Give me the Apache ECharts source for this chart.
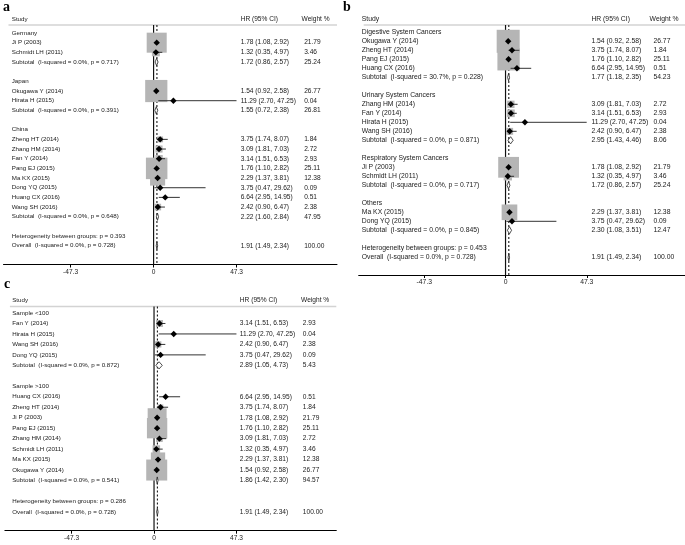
<!DOCTYPE html>
<html><head><meta charset="utf-8">
<script src="https://cdn.jsdelivr.net/npm/echarts@6/dist/echarts.min.js"></script>
<style>html,body{margin:0;padding:0;background:#fff}#c{width:685px;height:545px}</style>
</head><body><div id="c"></div>
<script>
// ---------- Panel a (by country) ----------
const aLabels = ['Germany','Ji P (2003)','Schmidt LH (2011)','Subtotal  (I-squared = 0.0%, p = 0.717)','',
  'Japan','Okugawa Y (2014)','Hirata H (2015)','Subtotal  (I-squared = 0.0%, p = 0.391)','',
  'China','Zheng HT (2014)','Zhang HM (2014)','Fan Y (2014)','Pang EJ (2015)','Ma KX (2015)','Dong YQ (2015)','Huang CX (2016)','Wang SH (2016)','Subtotal  (I-squared = 0.0%, p = 0.648)','',
  'Heterogeneity between groups: p = 0.393','Overall  (I-squared = 0.0%, p = 0.728)'];
const aHR     = [null,1.78,1.32,1.72,null, null,1.54,11.29,1.55,null, null,3.75,3.09,3.14,1.76,2.29,3.75,6.64,2.42,2.22,null, null,1.91];
const aLow    = [null,1.08,0.35,0.86,null, null,0.92,2.70,0.72,null, null,1.74,1.81,1.51,1.10,1.37,0.47,2.95,0.90,1.60,null, null,1.49];
const aHigh   = [null,2.92,4.97,2.57,null, null,2.58,47.25,2.38,null, null,8.07,7.03,6.53,2.82,3.81,29.62,14.95,6.47,2.84,null, null,2.34];
const aWeight = [null,21.79,3.46,25.24,null, null,26.77,0.04,26.81,null, null,1.84,2.72,2.93,25.11,12.38,0.09,0.51,2.38,47.95,null, null,100.00];

// ---------- Panel b (by cancer system) ----------
const bLabels = ['Digestive System Cancers','Okugawa Y (2014)','Zheng HT (2014)','Pang EJ (2015)','Huang CX (2016)','Subtotal  (I-squared = 30.7%, p = 0.228)','',
  'Urinary System Cancers','Zhang HM (2014)','Fan Y (2014)','Hirata H (2015)','Wang SH (2016)','Subtotal  (I-squared = 0.0%, p = 0.871)','',
  'Respiratory System Cancers','Ji P (2003)','Schmidt LH (2011)','Subtotal  (I-squared = 0.0%, p = 0.717)','',
  'Others','Ma KX (2015)','Dong YQ (2015)','Subtotal  (I-squared = 0.0%, p = 0.845)','',
  'Heterogeneity between groups: p = 0.453','Overall  (I-squared = 0.0%, p = 0.728)'];
const bHR     = [null,1.54,3.75,1.76,6.64,1.77,null, null,3.09,3.14,11.29,2.42,2.95,null, null,1.78,1.32,1.72,null, null,2.29,3.75,2.30,null, null,1.91];
const bLow    = [null,0.92,1.74,1.10,2.95,1.18,null, null,1.81,1.51,2.70,0.90,1.43,null, null,1.08,0.35,0.86,null, null,1.37,0.47,1.08,null, null,1.49];
const bHigh   = [null,2.58,8.07,2.82,14.95,2.35,null, null,7.03,6.53,47.25,6.47,4.46,null, null,2.92,4.97,2.57,null, null,3.81,29.62,3.51,null, null,2.34];
const bWeight = [null,26.77,1.84,25.11,0.51,54.23,null, null,2.72,2.93,0.04,2.38,8.06,null, null,21.79,3.46,25.24,null, null,12.38,0.09,12.47,null, null,100.00];

// ---------- Panel c (by sample size) ----------
const cLabels = ['Sample <100','Fan Y (2014)','Hirata H (2015)','Wang SH (2016)','Dong YQ (2015)','Subtotal  (I-squared = 0.0%, p = 0.872)','',
  'Sample >100','Huang CX (2016)','Zheng HT (2014)','Ji P (2003)','Pang EJ (2015)','Zhang HM (2014)','Schmidt LH (2011)','Ma KX (2015)','Okugawa Y (2014)','Subtotal  (I-squared = 0.0%, p = 0.541)','',
  'Heterogeneity between groups: p = 0.286','Overall  (I-squared = 0.0%, p = 0.728)'];
const cHR     = [null,3.14,11.29,2.42,3.75,2.89,null, null,6.64,3.75,1.78,1.76,3.09,1.32,2.29,1.54,1.86,null, null,1.91];
const cLow    = [null,1.51,2.70,0.90,0.47,1.05,null, null,2.95,1.74,1.08,1.10,1.81,0.35,1.37,0.92,1.42,null, null,1.49];
const cHigh   = [null,6.53,47.25,6.47,29.62,4.73,null, null,14.95,8.07,2.92,2.82,7.03,4.97,3.81,2.58,2.30,null, null,2.34];
const cWeight = [null,2.93,0.04,2.38,0.09,5.43,null, null,0.51,1.84,21.79,25.11,2.72,3.46,12.38,26.77,94.57,null, null,100.00];

const tickValues = [-47.3, 0, 47.3];
const headers = ['Study', 'HR (95% CI)', 'Weight %'];
const panelLetters = ['a', 'b', 'c'];

// ---------- layout (styles / positions) ----------
const XMIN = -85.5, XMAX = 104.5;
const FAM = '"Liberation Sans", Arial, sans-serif';
const TXT = '#1a1a1a';
const PANELS = [
  {labels:aLabels, hr:aHR, lo:aLow, hi:aHigh, w:aWeight,
   left:3.5, width:333.5, top:25, bottom:264.5, row1:33, sp:9.67, boxK:4.29, fsL:6.2, fsN:6.6,
   cols:{study:-80.8, hr:49.6, w:85.8, wh:84.3}, letter:{left:3, top:0}},
  {labels:bLabels, hr:bHR, lo:bLow, hi:bHigh, w:bWeight,
   left:358.7, width:326.3, top:25, bottom:275, row1:32.3, sp:9.0, boxK:4.45, fsL:6.8, fsN:6.8,
   cols:{study:-83.7, hr:50.0, w:86.1, wh:83.9}, letter:{left:343, top:0}},
  {labels:cLabels, hr:cHR, lo:cLow, hi:cHigh, w:cWeight,
   left:4.9, width:331.4, top:306.5, bottom:530.7, row1:313, sp:10.47, boxK:4.06, fsL:6.2, fsN:6.6,
   cols:{study:-81.3, hr:49.2, w:85.3, wh:84.3}, letter:{left:4, top:277}}
];

const grids = [], xAxes = [], yAxes = [], series = [], graphics = [];

PANELS.forEach((P, pi) => {
  const fontL = P.fsL + 'px ' + FAM, fontN = P.fsN + 'px ' + FAM;
  grids.push({left:P.left, top:P.top, width:P.width, height:P.bottom - P.top, containLabel:false});
  xAxes.push({
    gridIndex:pi, type:'value', min:XMIN, max:XMAX, position:'bottom',
    axisLine:{show:true, onZero:false, lineStyle:{color:'#000', width:1}},
    axisTick:{show:true, customValues:tickValues, length:3, lineStyle:{color:'#000', width:1}},
    axisLabel:{customValues:tickValues, fontSize:P.fsN, fontFamily:'"Liberation Sans", Arial', color:'#222', margin:4,
      formatter: v => String(v)},
    splitLine:{show:false}
  });
  yAxes.push({
    gridIndex:pi, type:'value', inverse:true,
    min: 1 - (P.row1 - P.top) / P.sp,
    max: 1 + (P.bottom - P.row1) / P.sp,
    show:false
  });

  const isDiamond = i => /^(Subtotal|Overall)/.test(P.labels[i]);
  const isStudy = i => P.hr[i] != null && !isDiamond(i);
  const ovIdx = P.labels.findIndex(l => l.startsWith('Overall'));
  const data = P.labels.map((l, i) => [P.hr[i] == null ? 0 : P.hr[i], i + 1]);
  const base = {type:'custom', coordinateSystem:'cartesian2d', xAxisIndex:pi, yAxisIndex:pi, silent:true, animation:false, clip:false};

  // reference lines + header
  series.push(Object.assign({}, base, {z:1, data:[[0, 1]], renderItem:(params, api) => {
    const cs = params.coordSys;
    const top = cs.y, bot = cs.y + cs.height;
    const x0 = api.coord([0, 1])[0];
    const xo = api.coord([P.hr[ovIdx], 1])[0];
    const hy = top - 6;
    const xs = [P.cols.study, P.cols.hr, P.cols.wh].map(v => api.coord([v, 1])[0]);
    return {type:'group', children:[
      {type:'line', shape:{x1:cs.x + 5, y1:top, x2:cs.x + cs.width, y2:top}, style:{stroke:'#d3d3d3', lineWidth:1.6}},
      {type:'line', shape:{x1:x0, y1:top, x2:x0, y2:bot}, style:{stroke:'#111', lineWidth:1.2}},
      {type:'line', shape:{x1:xo, y1:top, x2:xo, y2:bot}, style:{stroke:'#000', lineWidth:1, lineDash:[2, 2]}},
      ...headers.map((h, k) => ({type:'text', x:xs[k], y:hy, style:{text:h, font:k === 0 ? fontL : fontN, fill:TXT, align:'left', verticalAlign:'middle'}}))
    ]};
  }}));

  // weight boxes
  series.push(Object.assign({}, base, {z:2, data, renderItem:(params, api) => {
    const i = params.dataIndex;
    if (!isStudy(i) || P.w[i] == null) return null;
    const c = api.coord([P.hr[i], i + 1]);
    const s = P.boxK * Math.sqrt(P.w[i]);
    return {type:'rect', shape:{x:c[0] - s / 2, y:c[1] - s / 2, width:s, height:s}, style:{fill:'#b5b5b5'}};
  }}));

  // CI lines, point markers, pooled diamonds
  series.push(Object.assign({}, base, {z:3, data, renderItem:(params, api) => {
    const i = params.dataIndex;
    if (P.hr[i] == null) return null;
    const c = api.coord([P.hr[i], i + 1]);
    const xl = api.coord([P.lo[i], i + 1])[0];
    const xh = api.coord([P.hi[i], i + 1])[0];
    if (isDiamond(i)) {
      const h = 3.6;
      return {type:'polygon', shape:{points:[[xl, c[1]], [c[0], c[1] - h], [xh, c[1]], [c[0], c[1] + h]]},
        style:{fill:'#fff', stroke:'#222', lineWidth:0.8}};
    }
    const d = 3.2;
    return {type:'group', children:[
      {type:'line', shape:{x1:xl, y1:c[1], x2:xh, y2:c[1]}, style:{stroke:'#333', lineWidth:1}},
      {type:'polygon', shape:{points:[[c[0] - d, c[1]], [c[0], c[1] - d], [c[0] + d, c[1]], [c[0], c[1] + d]]}, style:{fill:'#000'}}
    ]};
  }}));

  // text columns
  series.push(Object.assign({}, base, {z:4, data, renderItem:(params, api) => {
    const i = params.dataIndex;
    const y = api.coord([0, i + 1])[1];
    const children = [];
    if (P.labels[i]) children.push({type:'text', x:api.coord([P.cols.study, 1])[0], y,
      style:{text:P.labels[i], font:fontL, fill:TXT, align:'left', verticalAlign:'middle'}});
    if (P.hr[i] != null) {
      children.push({type:'text', x:api.coord([P.cols.hr, 1])[0], y,
        style:{text:`${P.hr[i].toFixed(2)} (${P.lo[i].toFixed(2)}, ${P.hi[i].toFixed(2)})`, font:fontN, fill:TXT, align:'left', verticalAlign:'middle'}});
      children.push({type:'text', x:api.coord([P.cols.w, 1])[0], y,
        style:{text:P.w[i].toFixed(2), font:fontN, fill:TXT, align:'left', verticalAlign:'middle'}});
    }
    return {type:'group', children};
  }}));

  graphics.push({type:'text', left:P.letter.left, top:P.letter.top,
    style:{text:panelLetters[pi], font:'bold 14px "Liberation Serif", "Times New Roman", serif', fill:'#000'}});
});

const chart = echarts.init(document.getElementById('c'), null, {renderer:'canvas'});
chart.setOption({
  backgroundColor:'#fff',
  animation:false,
  grid:grids, xAxis:xAxes, yAxis:yAxes, series, graphic:graphics
});
</script>
</body></html>
